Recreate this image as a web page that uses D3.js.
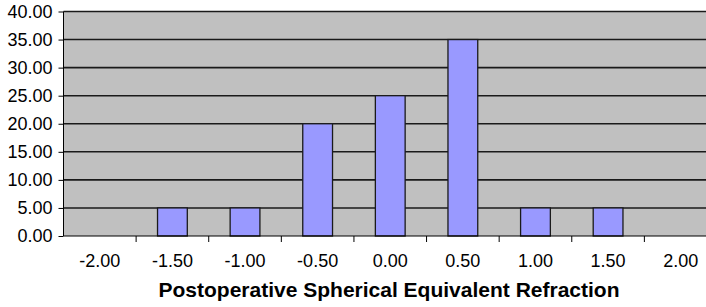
<!DOCTYPE html>
<html><head><meta charset="utf-8">
<script src="https://cdn.jsdelivr.net/npm/d3@7"></script>
<style>html,body{margin:0;padding:0;background:#fff;overflow:hidden}</style>
</head><body>
<script>
const categories = ["-2.00","-1.50","-1.00","-0.50","0.00","0.50","1.00","1.50","2.00"];
const values = [0, 5, 5, 20, 25, 35, 5, 5, 0];
const yTicks = [0,5,10,15,20,25,30,35,40];
const xTitle = "Postoperative Spherical Equivalent Refraction";

(function(){
const W = 706, H = 307;
const pLeft = 63.5, pTop = 11.5, pBottom = 236, pRight = 717;
const svg = d3.select("body").append("svg").attr("width", W).attr("height", H);

const x = d3.scaleBand().domain(categories).range([pLeft, pRight]).paddingInner(0.59).paddingOuter(0.295);
const xOuter = d3.scaleBand().domain(categories).range([pLeft, pRight]);
const y = d3.scaleLinear().domain([0, 40]).range([pBottom, pTop]);

svg.append("rect").attr("x", pLeft).attr("y", pTop).attr("width", pRight - pLeft).attr("height", pBottom - pTop).attr("fill", "#C0C0C0");

svg.append("g").selectAll("line").data(yTicks.filter(d => d > 0)).join("line")
  .attr("x1", pLeft).attr("x2", pRight).attr("y1", d => y(d)).attr("y2", d => y(d))
  .attr("stroke", "#1a1a1a").attr("stroke-width", 1.6);

svg.append("g").selectAll("rect").data(values).join("rect")
  .attr("x", (d, i) => x(categories[i]))
  .attr("width", x.bandwidth())
  .attr("y", d => y(d))
  .attr("height", d => pBottom - y(d))
  .attr("fill", "#9999FF").attr("stroke", "#1a1a1a").attr("stroke-width", 1.3);

const yAxis = d3.axisLeft(y).tickValues(yTicks).tickFormat(d3.format(".2f")).tickSize(5).tickPadding(6);
const gy = svg.append("g").attr("transform", `translate(${pLeft},0)`).call(yAxis);
gy.select(".domain").attr("stroke", "#000").attr("d", `M0,${pTop}V${pBottom}`);
gy.selectAll("text").attr("font-family", "Liberation Sans, Arial, sans-serif").attr("font-size", 18).attr("fill", "#000");

const xAxis = d3.axisBottom(xOuter).tickSize(0).tickPadding(0);
const gx = svg.append("g").attr("transform", `translate(0,${pBottom})`).call(xAxis);
gx.select(".domain").attr("stroke", "#000").attr("d", `M${pLeft},0H${pRight}`);
gx.selectAll("text").attr("font-family", "Liberation Sans, Arial, sans-serif").attr("font-size", 18).attr("fill", "#000").attr("dy", "0").attr("y", 31);
svg.append("g").selectAll("line").data(categories.slice(1)).join("line")
  .attr("x1", d => xOuter(d)).attr("x2", d => xOuter(d))
  .attr("y1", pBottom).attr("y2", pBottom + 6).attr("stroke", "#000");

svg.append("text").attr("x", 389).attr("y", 297).attr("text-anchor", "middle")
  .attr("font-family", "Liberation Sans, Arial, sans-serif").attr("font-size", 21).attr("font-weight", "bold")
  .text(xTitle);
})();
</script>
</body></html>
